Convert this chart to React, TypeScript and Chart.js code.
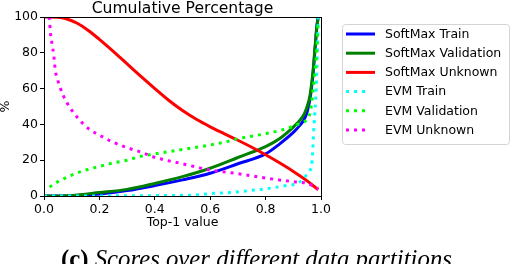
import React, { useEffect, useRef } from "react";
import { Chart, registerables } from "chart.js";

Chart.register(...registerables);

// ---- data ----
const softmaxTrainX = [0, 0.1, 0.2, 0.3, 0.4, 0.5, 0.6, 0.7, 0.8, 0.85, 0.9, 0.925, 0.94, 0.95, 0.96, 0.97, 0.975, 0.98, 0.985, 0.99];
const softmaxTrainY = [0, 0.2, 1.1, 3, 5.8, 9, 12.7, 18, 23.5, 29, 35.5, 39.7, 43, 47, 54, 66, 75, 85, 95, 100];

const softmaxValX = [0, 0.1, 0.2, 0.3, 0.4, 0.5, 0.6, 0.7, 0.8, 0.85, 0.9, 0.925, 0.94, 0.95, 0.96, 0.97, 0.98, 0.985, 0.99];
const softmaxValY = [0, 0.3, 1.9, 3.7, 7, 10.8, 15.5, 21.5, 27.6, 32, 38.5, 42.5, 46, 50, 56, 68, 86, 94, 100];

const softmaxUnkX = [0, 0.05, 0.08, 0.12, 0.16, 0.2, 0.25, 0.3, 0.35, 0.4, 0.45, 0.5, 0.55, 0.6, 0.65, 0.7, 0.75, 0.8, 0.85, 0.9, 0.95, 0.99];
const softmaxUnkY = [100, 99.8, 99, 96.5, 92.5, 87.5, 80.8, 73.8, 66.8, 60, 53.5, 47.75, 42.85, 38.65, 34.85, 31.15, 27.25, 23.05, 18.55, 13.75, 8.45, 3.5];

const evmTrainX = [0, 0.3, 0.45, 0.55, 0.61, 0.68, 0.74, 0.8, 0.865, 0.92, 0.948, 0.96, 0.968, 0.975, 0.98, 0.985, 0.99];
const evmTrainY = [0, 0.1, 0.3, 0.6, 1.5, 2, 3, 4, 5.6, 7.5, 11.7, 14, 20, 40, 52, 70, 100];

const evmValX = [0.02, 0.05, 0.1, 0.15, 0.2, 0.25, 0.3, 0.35, 0.4, 0.45, 0.5, 0.55, 0.6, 0.65, 0.7, 0.75, 0.8, 0.85, 0.9, 0.93, 0.96, 0.972, 0.98, 0.985, 0.99];
const evmValY = [5, 8, 11.7, 14.5, 16.5, 18.5, 20, 22.2, 23.5, 24.8, 26, 27.2, 28.5, 30, 32, 33.4, 34.8, 36.5, 39, 41, 46, 60, 72, 82, 98];

const evmUnkX = [0.019, 0.024, 0.03, 0.035, 0.041, 0.049, 0.058, 0.07, 0.085, 0.1, 0.12, 0.14, 0.166, 0.194, 0.25, 0.3, 0.35, 0.4, 0.5, 0.6, 0.7, 0.8, 0.9, 0.95, 0.99];
const evmUnkY = [100, 90, 84, 79, 70, 65, 60.7, 56, 51.5, 48, 44, 40.5, 37, 34.5, 30, 27, 24.5, 21.6, 18, 14.5, 12.5, 10, 8, 7, 4];

const seriesLabels = ["SoftMax Train", "SoftMax Validation", "SoftMax Unknown", "EVM Train", "EVM Validation", "EVM Unknown"];
const seriesColors = ["#0000ff", "#008000", "#ff0000", "#00ffff", "#00ff00", "#ff00ff"];
const seriesDotted = [false, false, false, true, true, true];
const seriesX = [softmaxTrainX, softmaxValX, softmaxUnkX, evmTrainX, evmValX, evmUnkX];
const seriesY = [softmaxTrainY, softmaxValY, softmaxUnkY, evmTrainY, evmValY, evmUnkY];

const xTickValues = [0, 0.2, 0.4, 0.6, 0.8, 1.0];
const yTickValues = [0, 20, 40, 60, 80, 100];

const chartTitle = "Cumulative Percentage";
const xAxisTitle = "Top-1 value";
const yAxisTitle = "%";
const captionLabel = "(c)";
const captionText = "Scores over different data partitions";

const FONT = '"DejaVu Sans", sans-serif';
const DOT_DASH = [3, 5];

const decorPlugin = {
  id: "decor",
  afterDatasetsDraw(chart: any) {
    const { ctx, chartArea: a } = chart;
    ctx.save();
    ctx.strokeStyle = "#000";
    ctx.lineWidth = 1;
    const l = Math.round(a.left) + 0.5;
    const t = Math.round(a.top) + 0.5;
    const r = Math.round(a.right) + 0.5;
    const b = Math.round(a.bottom) + 0.5;
    ctx.strokeRect(l, t, r - l, b - t);
    ctx.restore();
  },
  afterDraw(chart: any) {
    const { ctx, chartArea: a } = chart;
    ctx.save();
    // title
    ctx.fillStyle = "#000";
    ctx.font = `15.6px ${FONT}`;
    ctx.textAlign = "center";
    ctx.textBaseline = "alphabetic";
    ctx.fillText(chartTitle, (a.left + a.right) / 2, 13);
    // x axis title
    ctx.font = `12.5px ${FONT}`;
    ctx.textBaseline = "middle";
    ctx.fillText(xAxisTitle, (a.left + a.right) / 2, 223);
    // y axis title
    ctx.save();
    ctx.translate(6, (a.top + a.bottom) / 2);
    ctx.rotate(-Math.PI / 2);
    ctx.fillText(yAxisTitle, 0, 0);
    ctx.restore();

    // legend
    const lx = 342.5, ly = 24.5, lw = 167, lh = 120;
    ctx.beginPath();
    if ((ctx as any).roundRect) (ctx as any).roundRect(lx, ly, lw, lh, 3);
    else ctx.rect(lx, ly, lw, lh);
    ctx.fillStyle = "rgba(255,255,255,0.85)";
    ctx.fill();
    ctx.strokeStyle = "#d4d4d4";
    ctx.lineWidth = 1;
    ctx.stroke();
    seriesLabels.forEach((label, i) => {
      const y = 34 + i * 19.2;
      ctx.beginPath();
      ctx.strokeStyle = seriesColors[i];
      ctx.lineWidth = 3;
      ctx.lineCap = "butt";
      if (seriesDotted[i]) {
        ctx.setLineDash(DOT_DASH);
        ctx.moveTo(346, y);
        ctx.lineTo(368, y);
      } else {
        ctx.setLineDash([]);
        ctx.moveTo(346, y);
        ctx.lineTo(375, y);
      }
      ctx.stroke();
      ctx.setLineDash([]);
      ctx.fillStyle = "#000";
      ctx.font = `12.5px ${FONT}`;
      ctx.textAlign = "left";
      ctx.textBaseline = "middle";
      ctx.fillText(label, 385, y + 0.5);
    });

    // caption
    const targetLeft = 61, targetWidth = 391;
    const measure = (size: number) => {
      ctx.font = `bold ${size}px "Liberation Serif", serif`;
      const w1 = ctx.measureText(captionLabel + " ").width;
      ctx.font = `italic ${size}px "Liberation Serif", serif`;
      const w2 = ctx.measureText(captionText).width;
      return [w1, w2];
    };
    const [m1, m2] = measure(22);
    const size = 22 * targetWidth / (m1 + m2);
    const [w1] = measure(size);
    ctx.textAlign = "left";
    ctx.textBaseline = "alphabetic";
    ctx.fillStyle = "#000";
    ctx.font = `bold ${size}px "Liberation Serif", serif`;
    ctx.fillText(captionLabel, targetLeft, 267);
    ctx.font = `italic ${size}px "Liberation Serif", serif`;
    ctx.fillText(captionText, targetLeft + w1, 267);
    ctx.restore();
  },
};

export default function App() {
  const ref = useRef<HTMLCanvasElement | null>(null);
  useEffect(() => {
    if (!ref.current) return;
    const datasets = seriesLabels.map((label, i) => ({
      label,
      data: seriesX[i].map((x, j) => ({ x, y: seriesY[i][j] })),
      borderColor: seriesColors[i],
      backgroundColor: seriesColors[i],
      borderWidth: 3,
      borderDash: seriesDotted[i] ? DOT_DASH : [],
      borderCapStyle: "butt" as const,
      pointRadius: 0,
      fill: false,
      cubicInterpolationMode: "monotone" as const,
      order: seriesLabels.length - i,
    }));
    const chart = new Chart(ref.current, {
      type: "line",
      data: { datasets },
      options: {
        animation: false,
        responsive: false,
        devicePixelRatio: 1,
        layout: { padding: { left: 0, top: 17, right: 193, bottom: 0 } },
        plugins: { legend: { display: false }, tooltip: { enabled: false }, title: { display: false } },
        scales: {
          x: {
            type: "linear",
            min: 0,
            max: 1,
            afterFit: (s: any) => { s.height = 68; },
            afterBuildTicks: (s: any) => { s.ticks = xTickValues.map((v) => ({ value: v })); },
            ticks: {
              color: "#000",
              font: { family: FONT, size: 12.5 },
              padding: 2,
              maxRotation: 0,
              callback: (v: any) => Number(v).toFixed(1),
            },
            grid: { drawOnChartArea: false, drawTicks: true, tickLength: 4, color: "#000" },
            border: { display: true, color: "#000", width: 1 },
          },
          y: {
            type: "linear",
            min: 0,
            max: 100,
            afterFit: (s: any) => { s.width = 44; },
            afterBuildTicks: (s: any) => { s.ticks = yTickValues.map((v) => ({ value: v })); },
            ticks: {
              color: "#000",
              font: { family: FONT, size: 12.5 },
              padding: 2,
              callback: (v: any) => String(v),
            },
            grid: { drawOnChartArea: false, drawTicks: true, tickLength: 4, color: "#000" },
            border: { display: true, color: "#000", width: 1 },
          },
        },
      },
      plugins: [decorPlugin],
    });
    return () => chart.destroy();
  }, []);
  return (
    <div style={{ position: "fixed", left: 0, top: 0, width: 514, height: 264, background: "#fff" }}>
      <canvas ref={ref} width={514} height={264} style={{ width: 514, height: 264, display: "block" }} />
    </div>
  );
}
